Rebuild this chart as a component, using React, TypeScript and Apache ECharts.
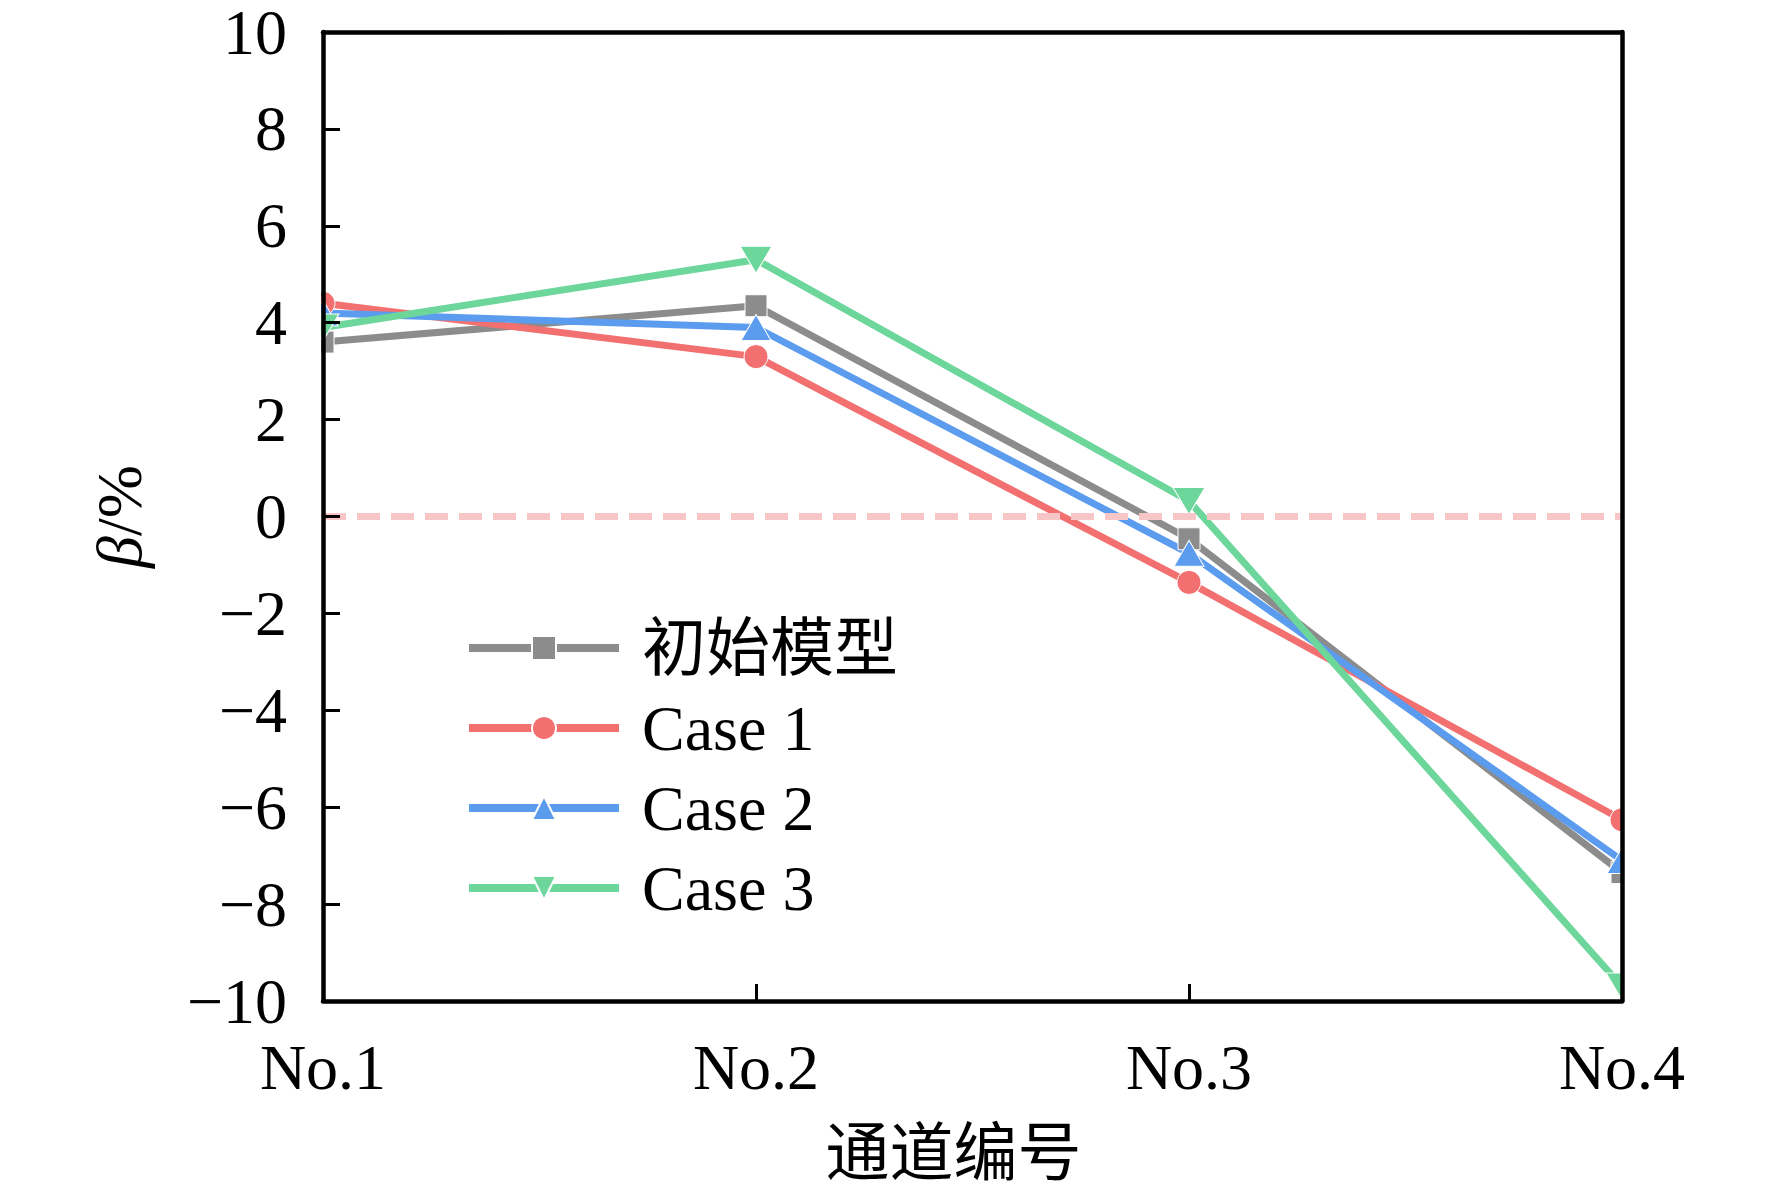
import * as echarts from 'echarts';
import React, { useEffect, useRef } from 'react';

const channels = ['No.1', 'No.2', 'No.3', 'No.4'];
const seriesNames = ['初始模型', 'Case 1', 'Case 2', 'Case 3'];
const initialModel = [3.6, 4.35, -0.46, -7.35];
const case1 = [4.4, 3.3, -1.36, -6.26];
const case2 = [4.2, 3.9, -0.76, -7.1];
const case3 = [3.9, 5.3, 0.32, -9.7];
const yTicks = { min: -10, max: 10, interval: 2 };

const FONT = "'Liberation Serif', 'Times New Roman', 'Noto Sans CJK SC', serif";

const W = 1772;
const H = 1193;
const GRID = { left: 323, right: 150, top: 32, bottom: 192 };

const ChannelChart: React.FC = () => {
  const chartRef = useRef<HTMLDivElement>(null);

  useEffect(() => {
    if (!chartRef.current) return;
    const chart = echarts.init(chartRef.current, null, { renderer: 'svg' });

    const line = (
      name: string,
      data: number[],
      color: string,
      symbol: string,
      symbolSize: number | number[],
      symbolRotate = 0,
    ): echarts.SeriesOption => ({
      type: 'line',
      name,
      data,
      symbol,
      symbolSize,
      symbolRotate,
      showAllSymbol: true,
      clip: false,
      z: 3,
      lineStyle: { color, width: 7 },
      itemStyle: { color, borderColor: '#fff', borderWidth: 1 },
    });

    const axisLine = { show: true, onZero: false, lineStyle: { color: '#000', width: 4.5 } };
    const ticks = { show: true, inside: true, length: 17, lineStyle: { color: '#000', width: 3 } };

    // white masks hide the half of the end markers that falls outside the frame
    const left = GRID.left - 2;
    const right = W - GRID.right + 2;
    const top = GRID.top - 2;
    const bottom = H - GRID.bottom + 2;
    const mask = (x: number, y: number, w: number, h: number) => ({
      type: 'rect',
      z: 5,
      shape: { x, y, width: w, height: h },
      style: { fill: '#fff' },
      silent: true,
    });

    const option: echarts.EChartsOption = {
      animation: false,
      backgroundColor: '#fff',
      textStyle: { fontFamily: FONT, color: '#000' },
      grid: { ...GRID, containLabel: false },
      legend: {
        orient: 'vertical',
        left: 465,
        top: 616,
        padding: 0,
        itemWidth: 150,
        itemHeight: 30,
        itemGap: 16,
        z: 20,
        lineStyle: { width: 8 },
        textStyle: {
          fontFamily: FONT,
          fontSize: 64,
          lineHeight: 64,
          color: '#000',
          padding: [0, 0, 0, 18],
        },
        data: seriesNames,
      },
      graphic: [
        mask(0, 0, left, H),
        mask(right, 0, W - right, H),
        mask(0, 0, W, top),
        mask(0, bottom, W, H - bottom),
      ],
      xAxis: [
        {
          type: 'category',
          data: channels,
          boundaryGap: false,
          position: 'bottom',
          z: 10,
          axisLine,
          axisTick: ticks,
          axisLabel: { fontFamily: FONT, fontSize: 64, color: '#000', margin: 34 },
          splitLine: { show: false },
          name: '通道编号',
          nameLocation: 'middle',
          nameGap: 112,
          nameTextStyle: {
            fontFamily: FONT,
            fontSize: 64,
            color: '#000',
            padding: [9, 38, 0, 0],
          },
        },
        {
          type: 'category',
          data: channels,
          boundaryGap: false,
          position: 'top',
          z: 10,
          axisLine,
          axisTick: { show: false },
          axisLabel: { show: false },
        },
      ],
      yAxis: [
        {
          type: 'value',
          ...yTicks,
          position: 'left',
          z: 10,
          axisLine,
          axisTick: ticks,
          splitLine: { show: false },
          axisLabel: {
            fontFamily: FONT,
            fontSize: 64,
            lineHeight: 46,
            color: '#000',
            margin: 36,
            formatter: (v: number) => String(v).replace('-', '\u2212'),
          },
          name: '{i|β}/%',
          nameLocation: 'middle',
          nameGap: 172,
          nameTextStyle: {
            fontFamily: FONT,
            fontSize: 64,
            color: '#000',
            rich: {
              i: { fontFamily: FONT, fontSize: 64, fontStyle: 'italic', color: '#000' },
            },
          },
        },
        {
          type: 'value',
          ...yTicks,
          position: 'right',
          z: 10,
          axisLine,
          axisTick: { show: false },
          axisLabel: { show: false },
          splitLine: { show: false },
        },
      ],
      series: [
        {
          ...line(seriesNames[0], initialModel, '#8c8c8c', 'rect', 22),
          markLine: {
            silent: true,
            symbol: 'none',
            label: { show: false },
            lineStyle: { color: '#f8c6c6', type: [23, 11], width: 7 },
            data: [{ yAxis: 0 }],
          },
        } as echarts.SeriesOption,
        line(seriesNames[1], case1, '#f27070', 'circle', 24),
        line(seriesNames[2], case2, '#5b9cef', 'triangle', [30, 26]),
        line(seriesNames[3], case3, '#6cd69b', 'triangle', [32, 27], 180),
      ],
    };

    chart.setOption(option);
    return () => chart.dispose();
  }, []);

  return (
    <div
      ref={chartRef}
      style={{ position: 'absolute', left: 0, top: 0, width: W + 'px', height: H + 'px' }}
    />
  );
};

export default function App() {
  return <ChannelChart />;
}
